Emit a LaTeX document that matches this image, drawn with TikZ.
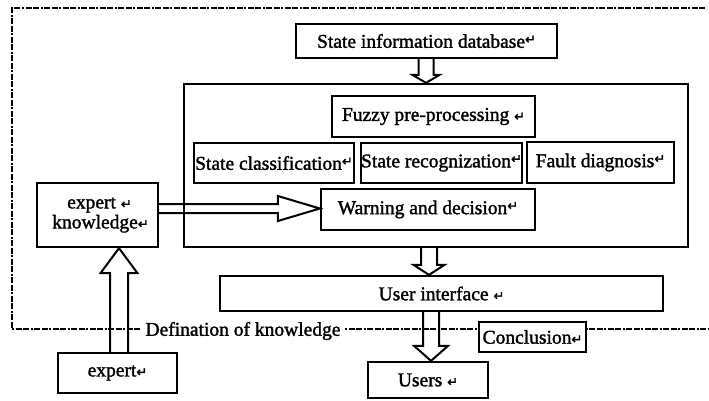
\documentclass[tikz,border=0pt]{standalone}
\usepackage{fontspec}
\setmainfont{Liberation Serif}
\newfontfamily\heavy{Liberation Serif}[FakeBold=1.6]
\newfontfamily\symfont{DejaVu Sans}[FakeBold=2]
\usetikzlibrary{calc}
\newcommand\ret{{\symfont\fontsize{13}{10}\selectfont ↵}}
\newcommand\retup{\raisebox{4pt}{\ret}}
\newcommand\hdown[6]{\draw[hollow] let \p0=(#1), \p1=(#2), \p2=(#3) in (\x0-#4pt,\y1) -- (\x0-#4pt,\y2+#6pt) -- (\x0-#5pt,\y2+#6pt) -- (\x0,\y2) -- (\x0+#5pt,\y2+#6pt) -- (\x0+#4pt,\y2+#6pt) -- (\x0+#4pt,\y1);}
\newcommand\hup[6]{\draw[hollow] let \p0=(#1), \p1=(#2), \p2=(#3) in (\x0-#4pt,\y1) -- (\x0-#4pt,\y2-#6pt) -- (\x0-#5pt,\y2-#6pt) -- (\x0,\y2) -- (\x0+#5pt,\y2-#6pt) -- (\x0+#4pt,\y2-#6pt) -- (\x0+#4pt,\y1);}
\newcommand\hright[6]{\draw[hollow] let \p0=(#1), \p1=(#2), \p2=(#3) in (\x1,\y0+#4pt) -- (\x2-#6pt,\y0+#4pt) -- (\x2-#6pt,\y0+#5pt) -- (\x2,\y0) -- (\x2-#6pt,\y0-#5pt) -- (\x2-#6pt,\y0-#4pt) -- (\x1,\y0-#4pt);}
\begin{document}
\begin{tikzpicture}[x=1pt,y=-1pt,
  txt/.style={font=\heavy\fontsize{19.5}{20}\selectfont, align=center},
  box/.style={txt, draw, line width=2.3pt, inner sep=0pt},
  hollow/.style={draw, line width=2pt, line join=miter},
  frame/.style={line width=2pt, dash pattern=on 6pt off 1.5pt on 6pt off 1.5pt on 2pt off 1.5pt}]
\useasboundingbox (0,0) rectangle (709,400);
% dashed frame
\draw[frame] (705,8) -- (12,8) -- (12,329) -- (709,329);
% nodes
\node[box, minimum width=261pt, minimum height=34pt] (db) at (426.5,41) {State information database\retup};
\node[box, minimum width=504pt, minimum height=163pt] (big) at (436,165.5) {};
\node[box, minimum width=203pt, minimum height=41pt] (fuzzy) at (433.5,116.5) {Fuzzy pre-processing \ret};
\node[box, minimum width=160pt, minimum height=40pt] (sc) at (274,163) {State classification\retup};
\node[box, minimum width=159pt, minimum height=40pt] (sr) at (441.5,163) {State recognization\retup};
\node[box, line width=1.8pt, minimum width=147pt, minimum height=41pt] (fd) at (600.5,162.5) {Fault diagnosis\retup};
\node[box, minimum width=214pt, minimum height=41pt] (warn) at (428,209.5) {Warning and decision\retup};
\node[box, minimum width=121pt, minimum height=64pt] (ek) at (97.5,215) {\hspace*{4pt}expert \ret\\ \hspace*{6pt}knowledge\ret};
\node[box, minimum width=119pt, minimum height=40pt] (expert) at (117.5,373) {expert\ret};
\node[box, minimum width=443pt, minimum height=35pt] (ui) at (441.5,293.5) {User interface \ret};
\node[box, minimum width=120pt, minimum height=36pt] (users) at (428,380) {Users \ret};
\node[box, fill=white, minimum width=107pt, minimum height=30pt] (concl) at (532.5,337) {Conclusion\ret};
\node[txt, fill=white, inner sep=4pt] (defk) at (243,331) {Defination of knowledge};
% arrow axis coordinates
\coordinate (ax1) at (426,0);
\coordinate (ax2) at (429,0);
\coordinate (ax3) at (431,0);
\coordinate (ax4) at (119,0);
\coordinate (ay1) at (0,208.5);
% hollow arrows
\hdown{ax1}{db.south}{big.north}{7.5}{13.5}{8}
\hdown{ax2}{big.south}{ui.north}{8}{15.5}{10}
\hdown{ax3}{ui.south}{users.north}{8}{17}{15}
\hup{ax4}{expert.north}{ek.south}{9}{18.5}{25}
\hright{ay1}{ek.east}{warn.west}{4.5}{12.5}{42}
\end{tikzpicture}
\end{document}
